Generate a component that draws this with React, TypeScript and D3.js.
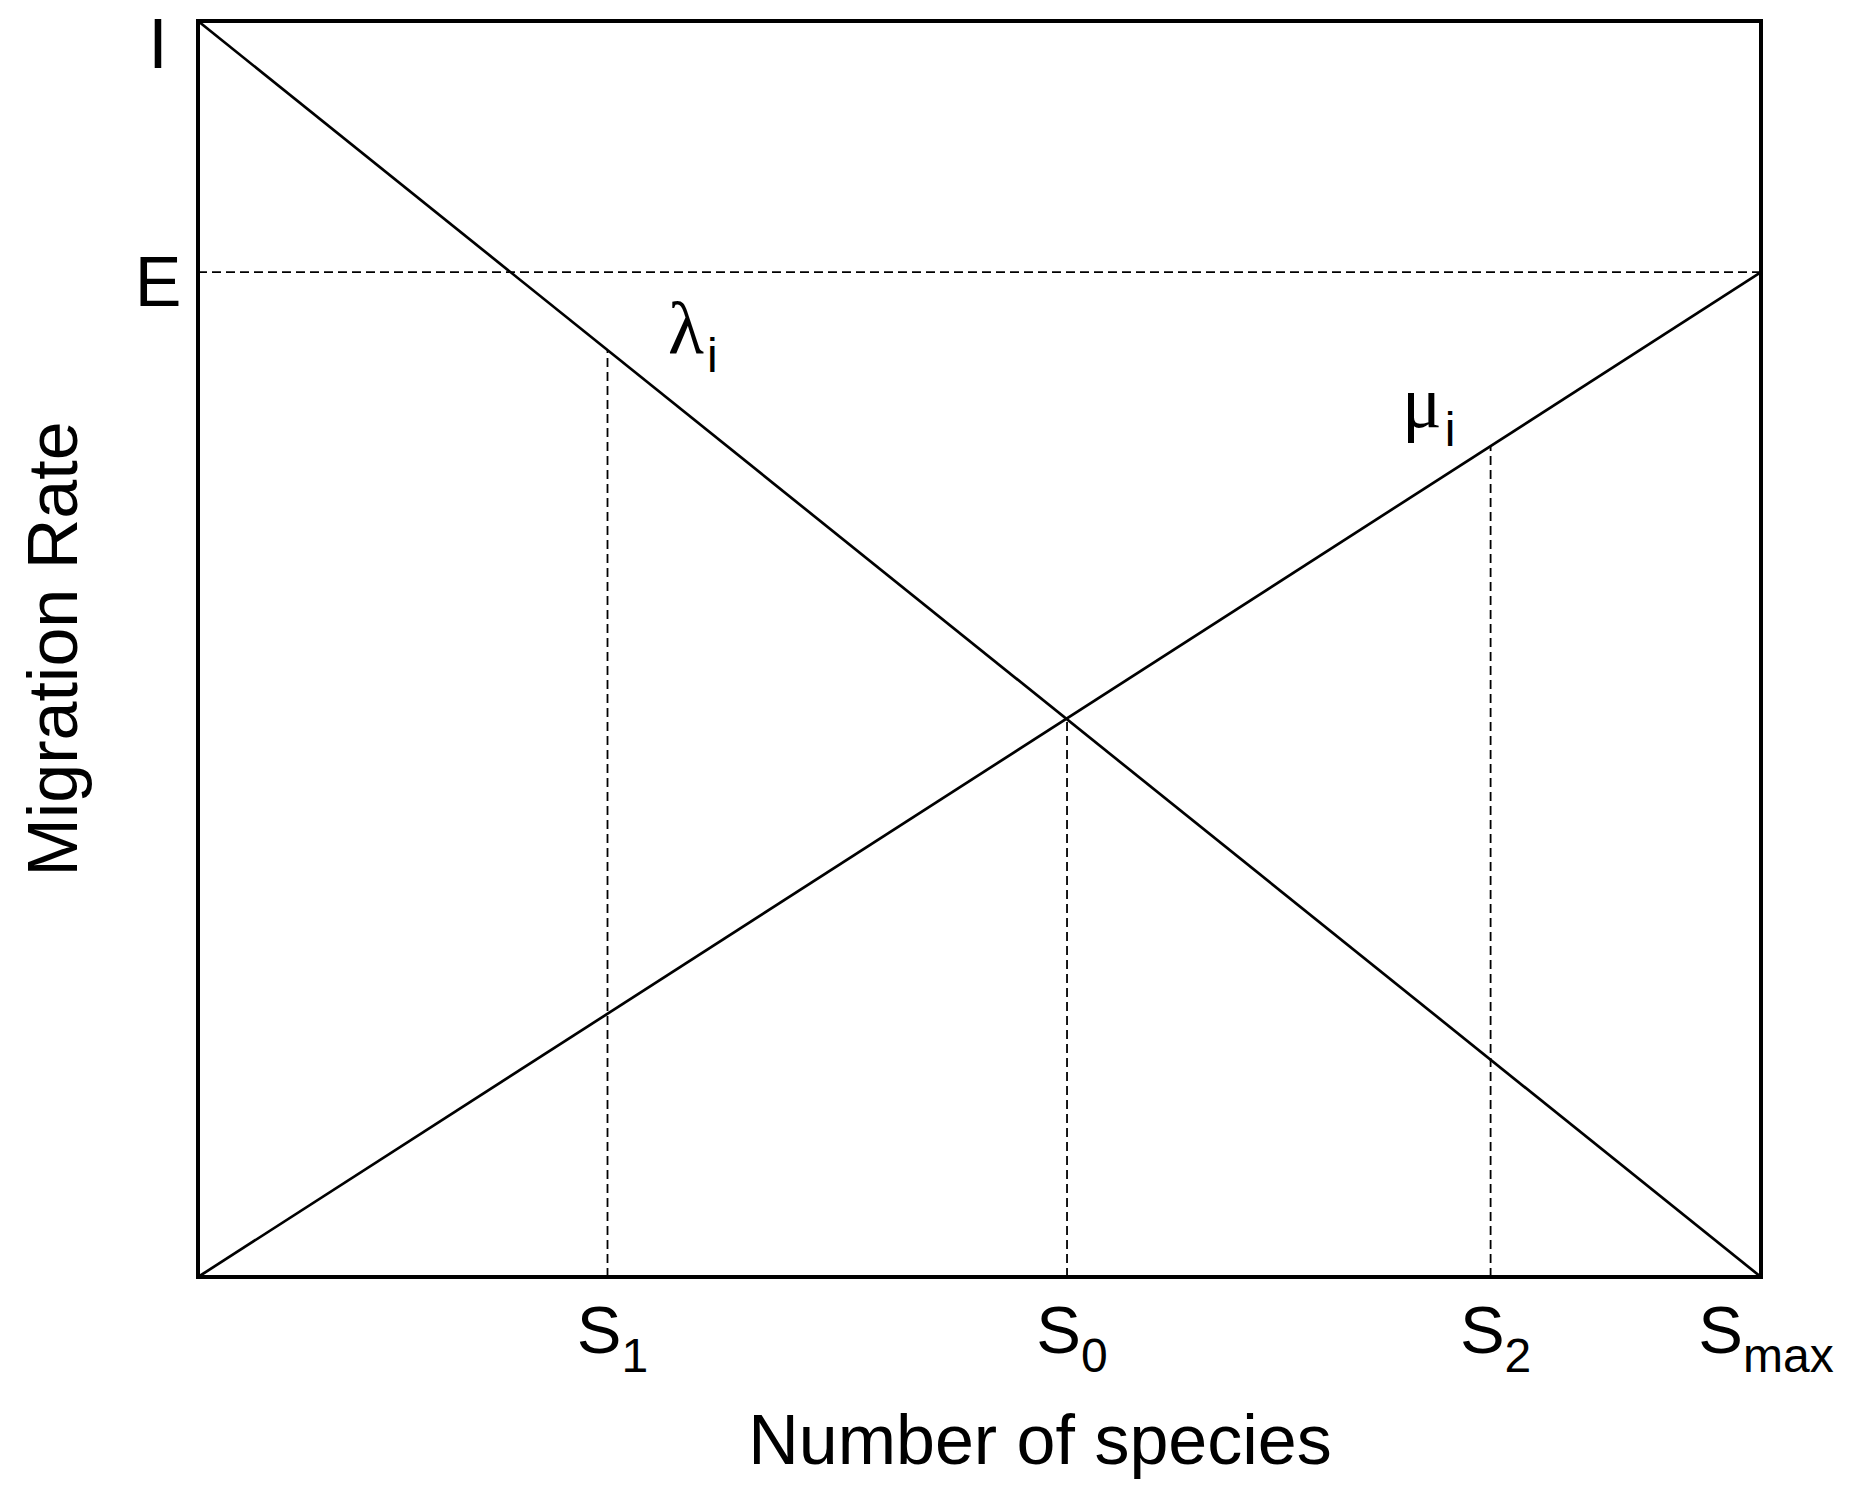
import React from 'react';
import * as d3 from 'd3';

// species axis: ticks as fractions of Smax
const speciesTicks = [0.262, 0.556, 0.827, 1];
const speciesBase = ['S', 'S', 'S', 'S'];
const speciesSubs = ['1', '0', '2', 'max'];
// which curve each dashed drop line reaches
const dropTo = ['lambda', 'lambda', 'mu', ''];

// migration rate axis labels
const rateLabels = ['I', 'E'];
const rateValues = [1, 0.8];

// immigration (lambda) and extinction (mu) endpoints at S = 0 and S = Smax
const lambdaRates = [1, 0];
const muRates = [0, 0.8];
const curveEnds = [0, 1];

const W = 1855;
const H = 1494;
const margin = { top: 21, right: 94, bottom: 217, left: 198 };

const App = () => {
  const x = d3.scaleLinear().domain([0, 1]).range([margin.left, W - margin.right]);
  const y = d3.scaleLinear().domain([0, 1]).range([H - margin.bottom, margin.top]);

  const lambdaAt = d3.scaleLinear().domain(curveEnds).range(lambdaRates);
  const muAt = d3.scaleLinear().domain(curveEnds).range(muRates);

  const line = d3.line<[number, number]>().x(d => x(d[0])).y(d => y(d[1]));
  const lambdaPts = curveEnds.map((s, i) => [s, lambdaRates[i]] as [number, number]);
  const muPts = curveEnds.map((s, i) => [s, muRates[i]] as [number, number]);

  const font = '"Liberation Sans", Arial, sans-serif';
  const greek = '"Liberation Serif", "Times New Roman", serif';

  return (
    <svg width={W} height={H} style={{ position: 'absolute', left: 0, top: 0, background: '#fff' }}>
      <rect x={0} y={0} width={W} height={H} fill="#fff" />

      {/* E reference line */}
      <line
        x1={x(0)} x2={x(1)} y1={y(rateValues[1])} y2={y(rateValues[1])}
        stroke="#000" strokeWidth={1.8} strokeDasharray="9,5"
      />

      {/* dashed drop lines */}
      {speciesTicks.map((s, i) => {
        if (!dropTo[i]) return null;
        const r = dropTo[i] === 'lambda' ? lambdaAt(s) : muAt(s);
        return (
          <line key={i} x1={x(s)} x2={x(s)} y1={y(0)} y2={y(r)}
            stroke="#000" strokeWidth={1.8} strokeDasharray="9,5" />
        );
      })}

      <path d={line(lambdaPts) || ''} fill="none" stroke="#000" strokeWidth={2.7} />
      <path d={line(muPts) || ''} fill="none" stroke="#000" strokeWidth={2.7} />

      <rect x={x(0)} y={y(1)} width={x(1) - x(0)} height={y(0) - y(1)}
        fill="none" stroke="#000" strokeWidth={4} />

      {/* rate labels */}
      {rateLabels.map((l, i) => (
        <text key={l} x={158} y={y(rateValues[i]) + (i === 0 ? 47 : 34)}
          textAnchor="middle" fontFamily={font} fontSize={70}>{l}</text>
      ))}

      {/* species tick labels */}
      {speciesTicks.map((s, i) => (
        <text key={i} x={x(s) + 5} y={1353} textAnchor="middle" fontFamily={font} fontSize={67}>
          {speciesBase[i]}
          <tspan fontSize={48} dy={19}>{speciesSubs[i]}</tspan>
        </text>
      ))}

      {/* curve labels */}
      <text x={668} y={353} fontFamily={greek} fontSize={74}>
        λ<tspan fontFamily={font} fontSize={48} dx={3} dy={19}>i</tspan>
      </text>
      <text x={1402} y={427} fontFamily={greek} fontSize={74}>
        μ<tspan fontFamily={font} fontSize={48} dx={3} dy={19}>i</tspan>
      </text>

      {/* axis titles */}
      <text x={1040} y={1464} textAnchor="middle" fontFamily={font} fontSize={70}>
        Number of species
      </text>
      <text transform={`translate(77, ${(y(0) + y(1)) / 2}) rotate(-90)`} textAnchor="middle"
        fontFamily={font} fontSize={70}>
        Migration Rate
      </text>
    </svg>
  );
};

export default App;
